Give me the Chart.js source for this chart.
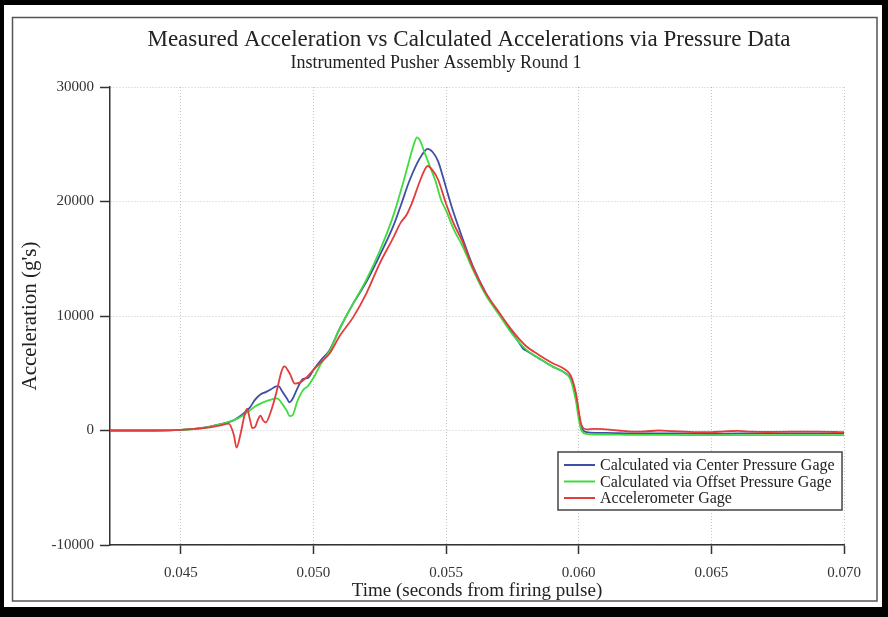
<!DOCTYPE html>
<html>
<head>
<meta charset="utf-8">
<title>Measured vs Calculated Acceleration</title>
<script src="https://cdn.jsdelivr.net/npm/chart.js@4.4.1/dist/chart.umd.min.js"></script>
<style>
  html, body { margin: 0; padding: 0; background: #000; }
  #wrap { width: 888px; height: 617px; }
</style>
</head>
<body>
<div id="wrap"><canvas id="accelChart" width="888" height="617"></canvas></div>
<script>
// time (s) and acceleration (g's)
const centerTime = [0.0423, 0.0440, 0.0450, 0.0455, 0.0460, 0.0465, 0.0470, 0.0474, 0.0476, 0.0478, 0.0480, 0.0482, 0.0484, 0.0486, 0.0487, 0.0488, 0.0490, 0.0491, 0.0492, 0.0494, 0.0496, 0.0498, 0.0500, 0.0503, 0.0506, 0.0510, 0.0515, 0.0520, 0.0525, 0.0530, 0.0533, 0.0536, 0.0539, 0.0541, 0.0543, 0.0545, 0.0547, 0.0549, 0.0551, 0.0553, 0.0556, 0.0560, 0.0565, 0.0570, 0.0575, 0.0578, 0.0579, 0.0580, 0.0585, 0.0590, 0.0595, 0.0597, 0.0599, 0.0600, 0.0601, 0.0603, 0.0606, 0.0610, 0.0620, 0.0630, 0.0640, 0.0650, 0.0660, 0.0670, 0.0680, 0.0690, 0.0700];
const centerAccel = [0, 0, 60, 150, 300, 550, 900, 1550, 2000, 2700, 3150, 3350, 3600, 3850, 3850, 3500, 2800, 2450, 2700, 3700, 4500, 4600, 5300, 6200, 7000, 8950, 11100, 13000, 15300, 17800, 19700, 21700, 23300, 24100, 24600, 24300, 23500, 22000, 20400, 18900, 16900, 14400, 12000, 10200, 8500, 7500, 7150, 7000, 6300, 5600, 5000, 4500, 3000, 1500, 300, -150, -200, -200, -250, -250, -250, -300, -250, -250, -250, -250, -250];

const offsetTime = [0.0423, 0.0440, 0.0450, 0.0455, 0.0460, 0.0465, 0.0470, 0.0474, 0.0476, 0.0478, 0.0480, 0.0482, 0.0484, 0.0486, 0.0487, 0.0488, 0.0490, 0.0491, 0.0492, 0.0494, 0.0496, 0.0498, 0.0500, 0.0503, 0.0506, 0.0510, 0.0515, 0.0520, 0.0525, 0.0530, 0.0532, 0.0534, 0.0536, 0.0538, 0.0539, 0.0540, 0.0542, 0.0544, 0.0546, 0.0548, 0.0550, 0.0553, 0.0556, 0.0560, 0.0565, 0.0570, 0.0575, 0.0580, 0.0585, 0.0590, 0.0595, 0.0597, 0.0599, 0.0600, 0.0601, 0.0603, 0.0606, 0.0610, 0.0620, 0.0630, 0.0640, 0.0650, 0.0660, 0.0670, 0.0680, 0.0690, 0.0700];
const offsetAccel = [0, 0, 50, 130, 280, 550, 900, 1400, 1750, 2100, 2350, 2550, 2700, 2800, 2700, 2400, 1700, 1250, 1300, 2600, 3500, 3900, 4600, 5900, 6900, 8950, 11100, 13200, 15700, 18700, 20200, 21800, 23500, 25100, 25600, 25400, 24200, 23000, 21800, 20200, 19200, 17500, 16200, 14100, 11800, 10100, 8400, 7100, 6300, 5600, 5000, 4400, 2500, 1000, 0, -300, -350, -350, -380, -380, -400, -400, -400, -400, -400, -400, -400];

const gageTime = [0.0423, 0.0440, 0.0450, 0.0460, 0.0465, 0.0468, 0.0470, 0.0471, 0.04725, 0.0474, 0.0475, 0.0476, 0.0477, 0.0478, 0.0479, 0.0480, 0.0481, 0.0482, 0.0484, 0.0486, 0.0488, 0.0489, 0.0491, 0.0493, 0.0495, 0.0497, 0.0500, 0.0503, 0.0506, 0.0510, 0.0515, 0.0520, 0.0525, 0.0530, 0.0533, 0.0535, 0.0537, 0.0540, 0.0542, 0.0543, 0.0545, 0.0547, 0.0550, 0.0553, 0.0556, 0.0560, 0.0565, 0.0570, 0.0575, 0.0580, 0.0585, 0.0590, 0.0595, 0.0597, 0.0599, 0.0600, 0.0601, 0.0603, 0.0606, 0.0610, 0.0615, 0.0620, 0.0625, 0.0630, 0.0635, 0.0640, 0.0645, 0.0650, 0.0655, 0.0660, 0.0665, 0.0670, 0.0680, 0.0690, 0.0700];
const gageAccel = [0, 0, 50, 250, 450, 600, -400, -1500, -300, 1300, 1900, 1000, 200, 300, 900, 1300, 900, 700, 1700, 3300, 5200, 5600, 5000, 4100, 4200, 4550, 5300, 6000, 6700, 8300, 9900, 12000, 14600, 16800, 18200, 18800, 19800, 21700, 22800, 23100, 22700, 21900, 19800, 18000, 16600, 14300, 12000, 10300, 8700, 7400, 6600, 5900, 5300, 4800, 3200, 1700, 500, 100, 150, 100, 0, -100, -80, 0, -50, -100, -150, -150, -80, -30, -100, -130, -100, -100, -150];

const seriesLabels = ["Calculated via Center Pressure Gage", "Calculated via Offset Pressure Gage", "Accelerometer Gage"];
const seriesColors = ["#3f4fa6", "#3fdc3f", "#e23c3c"];

const xTicks = [0.045, 0.050, 0.055, 0.060, 0.065, 0.070];
const yTicks = [-10000, 0, 10000, 20000, 30000];

const serif = "'Liberation Serif', 'Times New Roman', serif";

function toPoints(xs, ys) {
    return xs.map((x, i) => ({ x: x, y: ys[i] }));
}

// black surround, white sheet, title, inset legend
const sheet = {
    id: 'sheet',
    beforeDraw(chart) {
        const c = chart.ctx;
        c.save();
        c.fillStyle = "#000";
        c.fillRect(0, 0, chart.width, chart.height);
        c.fillStyle = "#fff";
        c.fillRect(4, 5, 878, 602);
        c.strokeStyle = "#555";
        c.lineWidth = 1.5;
        c.strokeRect(12.5, 17.5, 864.5, 583.5);
        c.restore();
    },
    afterDraw(chart) {
        const c = chart.ctx;
        c.save();
        c.fillStyle = "#222";
        c.textAlign = "center";
        c.textBaseline = "middle";
        c.font = "23px " + serif;
        c.fillText("Measured Acceleration vs Calculated Accelerations via Pressure Data", 469, 40);
        c.font = "18px " + serif;
        c.fillText("Instrumented Pusher Assembly Round 1", 436, 63);

        // legend box
        const bx = 558, by = 452, bw = 284, bh = 58;
        c.fillStyle = "#fff";
        c.fillRect(bx, by, bw, bh);
        c.strokeStyle = "#444";
        c.lineWidth = 1.5;
        c.strokeRect(bx, by, bw, bh);
        c.textAlign = "left";
        c.font = "16px " + serif;
        chart.data.datasets.forEach((ds, i) => {
            const y = by + 13 + i * 16.5;
            c.strokeStyle = ds.borderColor;
            c.lineWidth = 2;
            c.beginPath();
            c.moveTo(bx + 6, y);
            c.lineTo(bx + 37, y);
            c.stroke();
            c.fillStyle = "#222";
            c.fillText(ds.label, bx + 42, y + 1);
        });
        c.restore();
    }
};

const ctx = document.getElementById('accelChart');

new Chart(ctx, {
    type: 'line',
    data: {
        datasets: [
            { label: seriesLabels[0], data: toPoints(centerTime, centerAccel), borderColor: seriesColors[0], order: 3 },
            { label: seriesLabels[1], data: toPoints(offsetTime, offsetAccel), borderColor: seriesColors[1], order: 2 },
            { label: seriesLabels[2], data: toPoints(gageTime, gageAccel), borderColor: seriesColors[2], order: 1 }
        ]
    },
    options: {
        responsive: false,
        animation: false,
        devicePixelRatio: 1,
        layout: { padding: { left: 14, right: 44, top: 87, bottom: 15 } },
        elements: {
            point: { radius: 0 },
            line: { borderWidth: 1.8, cubicInterpolationMode: 'monotone', fill: false }
        },
        plugins: {
            legend: { display: false },
            tooltip: { enabled: false }
        },
        scales: {
            x: {
                type: 'linear',
                min: 0.04233,
                max: 0.070,
                afterFit: s => { s.height = 57; },
                afterBuildTicks: s => { s.ticks = xTicks.map(v => ({ value: v })); },
                ticks: {
                    padding: 10,
                    color: "#333",
                    font: { family: serif, size: 15 },
                    callback: v => v.toFixed(3)
                },
                grid: { color: "rgba(0,0,0,0.22)", tickColor: "#333", tickLength: 9, tickWidth: 1.5, tickBorderDash: [] },
                border: { color: "#333", width: 1.5, dash: [1, 2] },
                title: {
                    display: true,
                    text: "Time (seconds from firing pulse)",
                    color: "#222",
                    font: { family: serif, size: 19 },
                    padding: { top: 0, bottom: 0 }
                }
            },
            y: {
                min: -10000,
                max: 30000,
                afterFit: s => { s.width = 96; },
                afterBuildTicks: s => { s.ticks = yTicks.map(v => ({ value: v })); },
                ticks: {
                    padding: 6,
                    color: "#333",
                    font: { family: serif, size: 15 },
                    callback: v => String(v)
                },
                grid: { color: "rgba(0,0,0,0.22)", tickColor: "#333", tickLength: 10, tickWidth: 1.5, tickBorderDash: [] },
                border: { color: "#333", width: 1.5, dash: [1, 2] },
                title: {
                    display: true,
                    text: "Acceleration (g's)",
                    color: "#222",
                    font: { family: serif, size: 21 },
                    padding: { top: 4, bottom: 0 }
                }
            }
        }
    },
    plugins: [sheet]
});
</script>
</body>
</html>
